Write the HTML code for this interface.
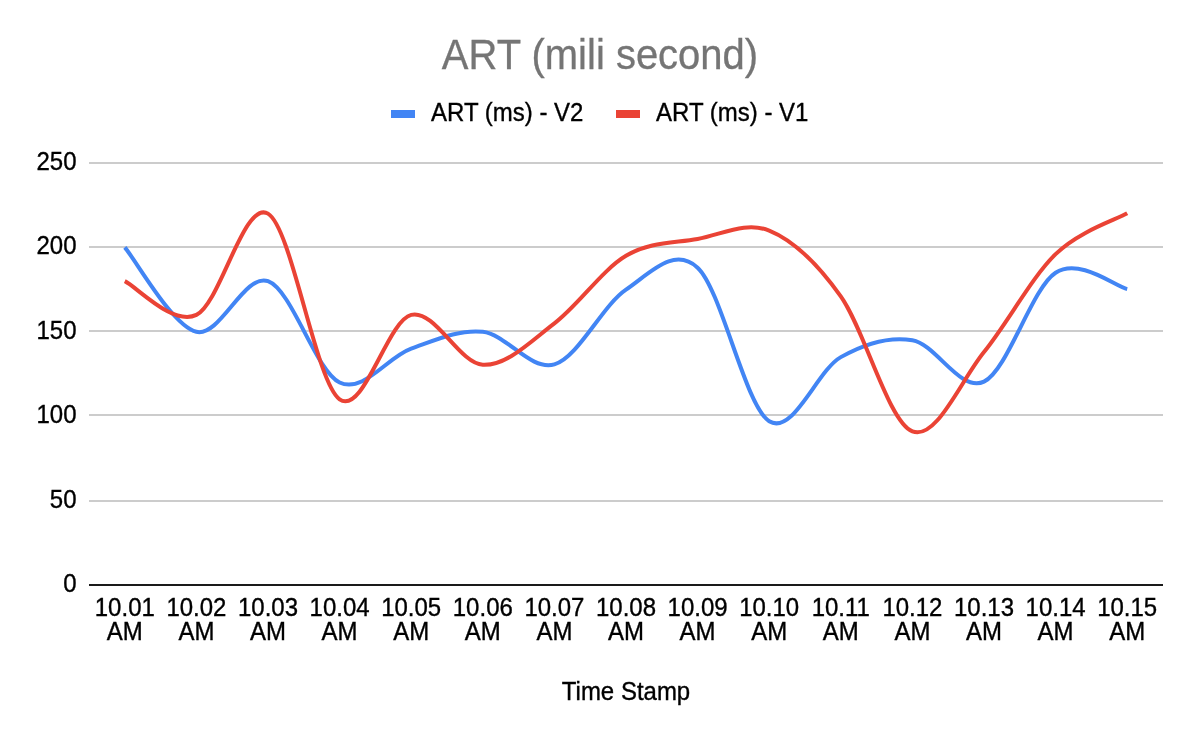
<!DOCTYPE html>
<html><head><meta charset="utf-8"><style>
html,body{margin:0;padding:0;background:#fff;}
body{width:1200px;height:742px;overflow:hidden;}
svg{display:block;will-change:transform;}
text{font-family:"Liberation Sans",sans-serif;}
</style></head><body>
<svg width="1200" height="742" viewBox="0 0 1200 742">
<rect x="0" y="0" width="1200" height="742" fill="#ffffff"/>
<text transform="translate(600.00,68.70) scale(1,1.0407)" font-size="40" fill="#757575" stroke="#757575" stroke-width="0.30" text-anchor="middle">ART (mili second)</text>
<rect x="391" y="110" width="24" height="8" fill="#4285f4"/>
<text transform="translate(431.00,120.80) scale(1,1.0407)" font-size="24" fill="#000000" stroke="#000000" stroke-width="0.35" text-anchor="start">ART (ms) - V2</text>
<rect x="616" y="110" width="24" height="8" fill="#ea4335"/>
<text transform="translate(656.00,120.80) scale(1,1.0407)" font-size="24" fill="#000000" stroke="#000000" stroke-width="0.35" text-anchor="start">ART (ms) - V1</text>
<rect x="89" y="162" width="1074" height="2" fill="#cccccc"/>
<rect x="89" y="246" width="1074" height="2" fill="#cccccc"/>
<rect x="89" y="330" width="1074" height="2" fill="#cccccc"/>
<rect x="89" y="414" width="1074" height="2" fill="#cccccc"/>
<rect x="89" y="500" width="1074" height="2" fill="#cccccc"/>
<text transform="translate(76.50,170.00) scale(1,1.0407)" font-size="24" fill="#000000" stroke="#000000" stroke-width="0.35" text-anchor="end">250</text>
<text transform="translate(76.50,254.30) scale(1,1.0407)" font-size="24" fill="#000000" stroke="#000000" stroke-width="0.35" text-anchor="end">200</text>
<text transform="translate(76.50,338.60) scale(1,1.0407)" font-size="24" fill="#000000" stroke="#000000" stroke-width="0.35" text-anchor="end">150</text>
<text transform="translate(76.50,423.00) scale(1,1.0407)" font-size="24" fill="#000000" stroke="#000000" stroke-width="0.35" text-anchor="end">100</text>
<text transform="translate(76.50,507.70) scale(1,1.0407)" font-size="24" fill="#000000" stroke="#000000" stroke-width="0.35" text-anchor="end">50</text>
<text transform="translate(76.50,592.00) scale(1,1.0407)" font-size="24" fill="#000000" stroke="#000000" stroke-width="0.35" text-anchor="end">0</text>
<path d="M124.80,247.40 C136.73,261.47 172.53,326.17 196.40,331.80 C220.27,337.43 244.13,272.72 268.00,281.16 C291.87,289.60 315.73,371.19 339.60,382.44 C363.47,393.69 387.33,357.12 411.20,348.68 C435.07,340.24 458.93,329.18 482.80,331.80 C506.67,334.42 530.53,371.41 554.40,364.38 C578.27,357.35 602.13,305.72 626.00,289.60 C649.87,273.48 673.73,245.71 697.60,267.66 C721.47,289.60 745.33,406.35 769.20,421.26 C793.07,436.17 816.93,370.62 840.80,357.12 C864.67,343.62 888.53,336.16 912.40,340.24 C936.27,344.32 960.13,392.85 984.00,381.60 C1007.87,370.34 1031.73,288.14 1055.60,272.72 C1079.47,257.30 1115.27,286.36 1127.20,289.09" fill="none" stroke="#4285f4" stroke-width="4" stroke-linejoin="round"/>
<path d="M124.80,281.16 C136.73,286.79 172.53,326.17 196.40,314.92 C220.27,303.67 244.13,199.57 268.00,213.64 C291.87,227.71 315.73,382.44 339.60,399.32 C363.47,416.20 387.33,320.69 411.20,314.92 C435.07,309.15 458.93,363.31 482.80,364.72 C506.67,366.12 530.53,341.51 554.40,323.36 C578.27,305.21 602.13,269.91 626.00,255.84 C649.87,241.77 673.73,243.18 697.60,238.96 C721.47,234.74 745.33,220.95 769.20,230.52 C793.07,240.09 816.93,262.87 840.80,296.35 C864.67,329.83 888.53,422.11 912.40,431.39 C936.27,440.68 960.13,381.60 984.00,352.06 C1007.87,322.52 1031.73,277.28 1055.60,254.15 C1079.47,231.03 1115.27,220.11 1127.20,213.30" fill="none" stroke="#ea4335" stroke-width="4" stroke-linejoin="round"/>
<rect x="89" y="584" width="1074" height="2" fill="#1a1a1a"/>
<text transform="translate(124.80,615.80) scale(1,1.0407)" font-size="24" fill="#000000" stroke="#000000" stroke-width="0.35" text-anchor="middle">10.01</text>
<text transform="translate(124.80,639.80) scale(1,1.0407)" font-size="24" fill="#000000" stroke="#000000" stroke-width="0.35" text-anchor="middle">AM</text>
<text transform="translate(196.40,615.80) scale(1,1.0407)" font-size="24" fill="#000000" stroke="#000000" stroke-width="0.35" text-anchor="middle">10.02</text>
<text transform="translate(196.40,639.80) scale(1,1.0407)" font-size="24" fill="#000000" stroke="#000000" stroke-width="0.35" text-anchor="middle">AM</text>
<text transform="translate(268.00,615.80) scale(1,1.0407)" font-size="24" fill="#000000" stroke="#000000" stroke-width="0.35" text-anchor="middle">10.03</text>
<text transform="translate(268.00,639.80) scale(1,1.0407)" font-size="24" fill="#000000" stroke="#000000" stroke-width="0.35" text-anchor="middle">AM</text>
<text transform="translate(339.60,615.80) scale(1,1.0407)" font-size="24" fill="#000000" stroke="#000000" stroke-width="0.35" text-anchor="middle">10.04</text>
<text transform="translate(339.60,639.80) scale(1,1.0407)" font-size="24" fill="#000000" stroke="#000000" stroke-width="0.35" text-anchor="middle">AM</text>
<text transform="translate(411.20,615.80) scale(1,1.0407)" font-size="24" fill="#000000" stroke="#000000" stroke-width="0.35" text-anchor="middle">10.05</text>
<text transform="translate(411.20,639.80) scale(1,1.0407)" font-size="24" fill="#000000" stroke="#000000" stroke-width="0.35" text-anchor="middle">AM</text>
<text transform="translate(482.80,615.80) scale(1,1.0407)" font-size="24" fill="#000000" stroke="#000000" stroke-width="0.35" text-anchor="middle">10.06</text>
<text transform="translate(482.80,639.80) scale(1,1.0407)" font-size="24" fill="#000000" stroke="#000000" stroke-width="0.35" text-anchor="middle">AM</text>
<text transform="translate(554.40,615.80) scale(1,1.0407)" font-size="24" fill="#000000" stroke="#000000" stroke-width="0.35" text-anchor="middle">10.07</text>
<text transform="translate(554.40,639.80) scale(1,1.0407)" font-size="24" fill="#000000" stroke="#000000" stroke-width="0.35" text-anchor="middle">AM</text>
<text transform="translate(626.00,615.80) scale(1,1.0407)" font-size="24" fill="#000000" stroke="#000000" stroke-width="0.35" text-anchor="middle">10.08</text>
<text transform="translate(626.00,639.80) scale(1,1.0407)" font-size="24" fill="#000000" stroke="#000000" stroke-width="0.35" text-anchor="middle">AM</text>
<text transform="translate(697.60,615.80) scale(1,1.0407)" font-size="24" fill="#000000" stroke="#000000" stroke-width="0.35" text-anchor="middle">10.09</text>
<text transform="translate(697.60,639.80) scale(1,1.0407)" font-size="24" fill="#000000" stroke="#000000" stroke-width="0.35" text-anchor="middle">AM</text>
<text transform="translate(769.20,615.80) scale(1,1.0407)" font-size="24" fill="#000000" stroke="#000000" stroke-width="0.35" text-anchor="middle">10.10</text>
<text transform="translate(769.20,639.80) scale(1,1.0407)" font-size="24" fill="#000000" stroke="#000000" stroke-width="0.35" text-anchor="middle">AM</text>
<text transform="translate(840.80,615.80) scale(1,1.0407)" font-size="24" fill="#000000" stroke="#000000" stroke-width="0.35" text-anchor="middle">10.11</text>
<text transform="translate(840.80,639.80) scale(1,1.0407)" font-size="24" fill="#000000" stroke="#000000" stroke-width="0.35" text-anchor="middle">AM</text>
<text transform="translate(912.40,615.80) scale(1,1.0407)" font-size="24" fill="#000000" stroke="#000000" stroke-width="0.35" text-anchor="middle">10.12</text>
<text transform="translate(912.40,639.80) scale(1,1.0407)" font-size="24" fill="#000000" stroke="#000000" stroke-width="0.35" text-anchor="middle">AM</text>
<text transform="translate(984.00,615.80) scale(1,1.0407)" font-size="24" fill="#000000" stroke="#000000" stroke-width="0.35" text-anchor="middle">10.13</text>
<text transform="translate(984.00,639.80) scale(1,1.0407)" font-size="24" fill="#000000" stroke="#000000" stroke-width="0.35" text-anchor="middle">AM</text>
<text transform="translate(1055.60,615.80) scale(1,1.0407)" font-size="24" fill="#000000" stroke="#000000" stroke-width="0.35" text-anchor="middle">10.14</text>
<text transform="translate(1055.60,639.80) scale(1,1.0407)" font-size="24" fill="#000000" stroke="#000000" stroke-width="0.35" text-anchor="middle">AM</text>
<text transform="translate(1127.20,615.80) scale(1,1.0407)" font-size="24" fill="#000000" stroke="#000000" stroke-width="0.35" text-anchor="middle">10.15</text>
<text transform="translate(1127.20,639.80) scale(1,1.0407)" font-size="24" fill="#000000" stroke="#000000" stroke-width="0.35" text-anchor="middle">AM</text>
<text transform="translate(626.00,700.00) scale(1,1.0407)" font-size="24" fill="#000000" stroke="#000000" stroke-width="0.35" text-anchor="middle">Time Stamp</text>
</svg>
</body></html>
